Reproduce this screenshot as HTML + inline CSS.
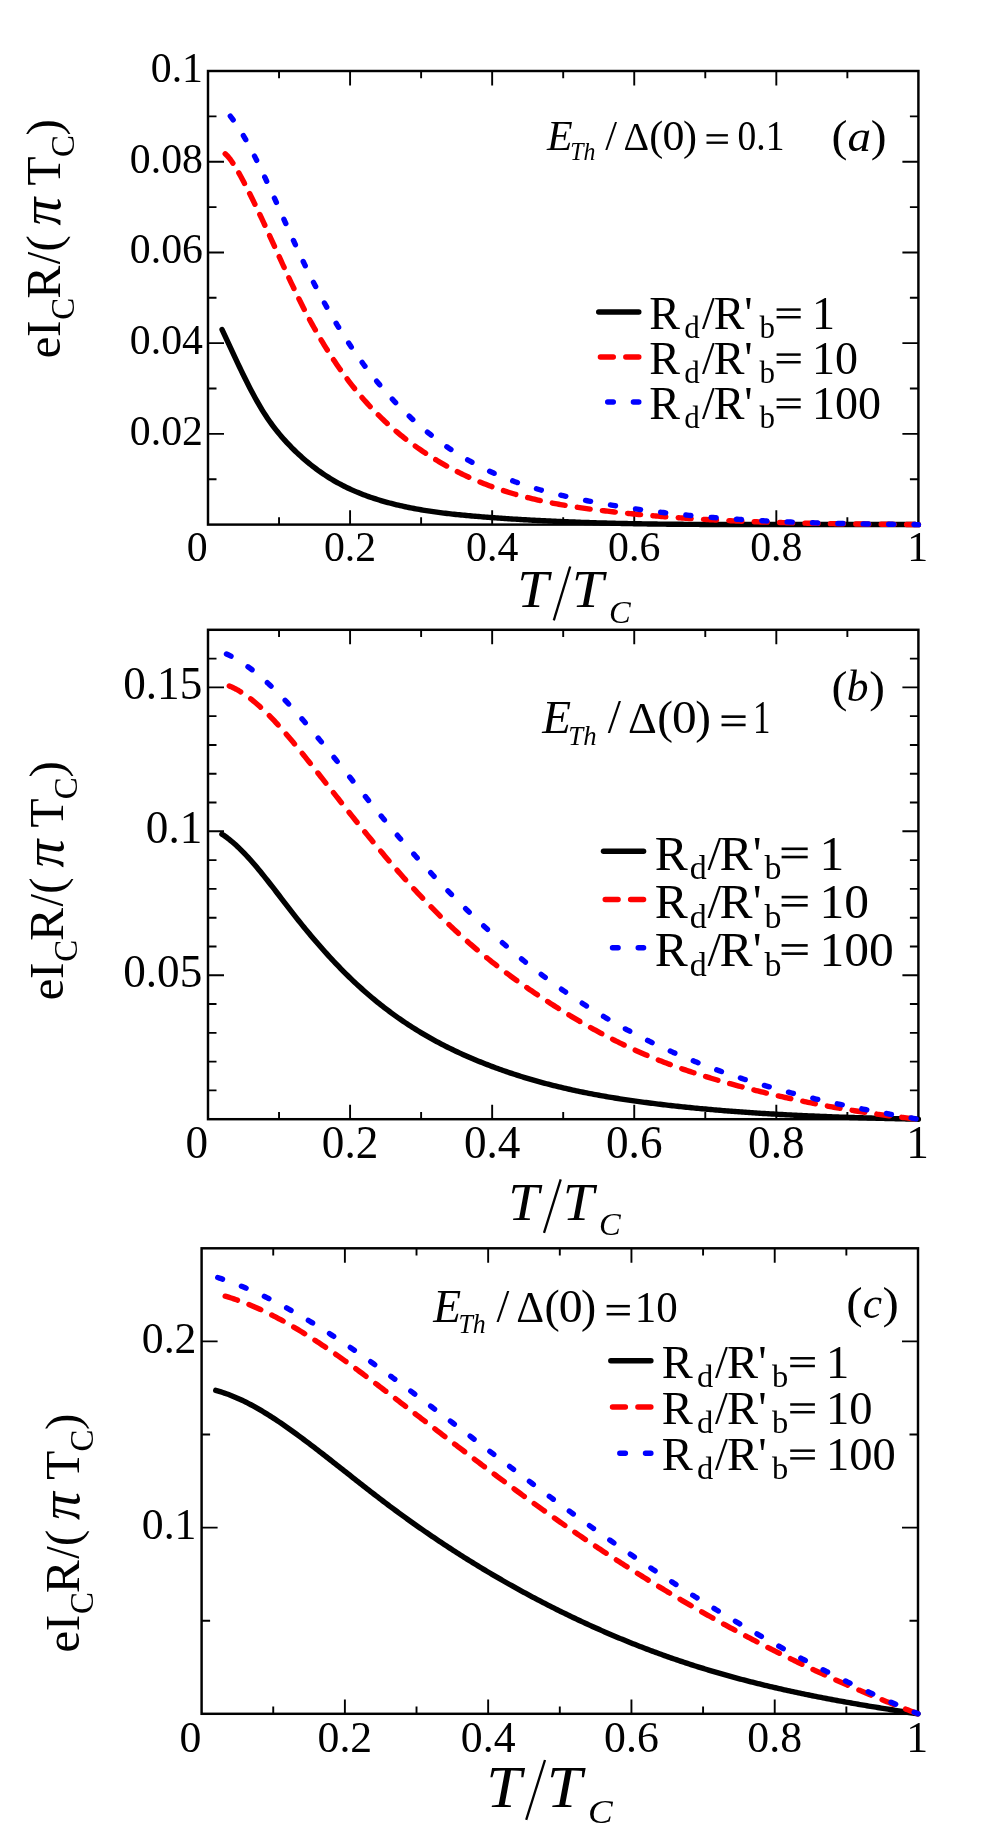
<!DOCTYPE html>
<html><head><meta charset="utf-8"><title>Figure</title>
<style>
html,body{margin:0;padding:0;background:#fff;}
body{width:981px;height:1839px;overflow:hidden;font-family:"Liberation Serif",serif;}
svg{display:block;}
text{font-family:"Liberation Serif",serif;}
</style></head><body>
<svg width="981" height="1839" viewBox="0 0 981 1839" style="will-change:transform;opacity:0.999">
<rect width="981" height="1839" fill="#fff"/>
<g id="panel-a">
<rect x="208" y="71" width="710.4" height="453.6" fill="none" stroke="#000" stroke-width="2.45"/>
<path d="M279.04 524.6v-7.3M279.04 71v7.3M350.08 524.6v-14.4M350.08 71v14.4M421.12 524.6v-7.3M421.12 71v7.3M492.16 524.6v-14.4M492.16 71v14.4M563.2 524.6v-7.3M563.2 71v7.3M634.24 524.6v-14.4M634.24 71v14.4M705.28 524.6v-7.3M705.28 71v7.3M776.32 524.6v-14.4M776.32 71v14.4M847.36 524.6v-7.3M847.36 71v7.3M208 479.24h8.5M918.4 479.24h-8.5M208 433.88h16M918.4 433.88h-16M208 388.52h8.5M918.4 388.52h-8.5M208 343.16h16M918.4 343.16h-16M208 297.8h8.5M918.4 297.8h-8.5M208 252.44h16M918.4 252.44h-16M208 207.08h8.5M918.4 207.08h-8.5M208 161.72h16M918.4 161.72h-16M208 116.36h8.5M918.4 116.36h-8.5" fill="none" stroke="#000" stroke-width="1.9"/>
<g font-family='"Liberation Serif", serif' font-size="43" fill="#000" style="font-kerning:none">
<text transform="translate(203 444.68) scale(0.972 1)" text-anchor="end">0.02</text>
<text transform="translate(203 353.96) scale(0.972 1)" text-anchor="end">0.04</text>
<text transform="translate(203 263.24) scale(0.972 1)" text-anchor="end">0.06</text>
<text transform="translate(203 172.52) scale(0.972 1)" text-anchor="end">0.08</text>
<text transform="translate(203 81.8) scale(0.972 1)" text-anchor="end">0.1</text>
<text transform="translate(350.08 561) scale(0.972 1)" text-anchor="middle">0.2</text>
<text transform="translate(492.16 561) scale(0.972 1)" text-anchor="middle">0.4</text>
<text transform="translate(634.24 561) scale(0.972 1)" text-anchor="middle">0.6</text>
<text transform="translate(776.32 561) scale(0.972 1)" text-anchor="middle">0.8</text>
<text transform="translate(197.3 561) scale(0.972 1)" text-anchor="middle">0</text>
<text transform="translate(917.6 561) scale(0.972 1)" text-anchor="middle">1</text>
</g>
<path d="M222.07 329.55L223.81 333.31L225.56 337.07L227.3 340.84L229.05 344.61L230.79 348.38L232.54 352.14L234.28 355.88L236.03 359.61L237.77 363.31L239.52 366.99L241.26 370.63L243.01 374.23L244.75 377.79L246.5 381.31L248.24 384.77L249.99 388.18L251.73 391.52L253.48 394.8L255.22 398.01L256.97 401.15L258.72 404.2L260.46 407.17L262.21 410.04L263.95 412.83L265.7 415.53L267.44 418.15L269.19 420.69L270.93 423.15L272.68 425.53L274.42 427.84L276.17 430.09L277.91 432.27L279.66 434.39L281.4 436.45L283.15 438.46L284.89 440.41L286.64 442.31L288.38 444.17L290.13 445.99L291.87 447.77L293.62 449.5L295.36 451.21L297.11 452.88L298.85 454.51L300.6 456.11L302.35 457.67L304.09 459.2L305.84 460.7L307.58 462.17L309.33 463.6L311.07 465L312.82 466.37L314.56 467.71L316.31 469.02L318.05 470.3L319.8 471.55L321.54 472.77L323.29 473.96L325.03 475.13L326.78 476.26L328.52 477.38L330.27 478.46L332.01 479.52L333.76 480.55L335.5 481.56L337.25 482.54L338.99 483.5L340.74 484.44L342.48 485.35L344.23 486.24L345.97 487.11L347.72 487.96L349.47 488.78L351.21 489.59L352.96 490.37L354.7 491.13L356.45 491.88L358.19 492.61L359.94 493.31L361.68 494L363.43 494.68L365.17 495.33L366.92 495.97L368.66 496.6L370.41 497.2L372.15 497.8L373.9 498.38L375.64 498.94L377.39 499.49L379.13 500.03L380.88 500.56L382.62 501.07L384.37 501.57L386.11 502.06L387.86 502.54L389.6 503.01L391.35 503.47L393.1 503.91L394.84 504.35L396.59 504.77L398.33 505.19L400.08 505.6L401.82 505.99L403.57 506.38L405.31 506.76L407.06 507.13L408.8 507.49L410.55 507.84L412.29 508.18L414.04 508.51L415.78 508.84L417.53 509.15L419.27 509.46L421.02 509.76L422.76 510.06L424.51 510.34L426.25 510.62L428 510.9L429.74 511.16L431.49 511.42L433.23 511.67L434.98 511.92L436.73 512.16L438.47 512.39L440.22 512.62L441.96 512.84L443.71 513.06L445.45 513.27L447.2 513.48L448.94 513.68L450.69 513.88L452.43 514.07L454.18 514.26L455.92 514.44L457.67 514.62L459.41 514.8L461.16 514.97L462.9 515.14L464.65 515.3L466.39 515.47L468.14 515.63L469.88 515.78L471.63 515.94L473.37 516.09L475.12 516.24L476.86 516.39L478.61 516.53L480.36 516.68L482.1 516.82L483.85 516.96L485.59 517.1L487.34 517.23L489.08 517.37L490.83 517.5L492.57 517.63L494.32 517.76L496.06 517.89L497.81 518.01L499.55 518.14L501.3 518.26L503.04 518.38L504.79 518.5L506.53 518.61L508.28 518.73L510.02 518.84L511.77 518.96L513.51 519.07L515.26 519.17L517 519.28L518.75 519.39L520.49 519.49L522.24 519.6L523.99 519.7L525.73 519.8L527.48 519.89L529.22 519.99L530.97 520.09L532.71 520.18L534.46 520.28L536.2 520.37L537.95 520.46L539.69 520.55L541.44 520.63L543.18 520.72L544.93 520.81L546.67 520.89L548.42 520.97L550.16 521.06L551.91 521.14L553.65 521.22L555.4 521.29L557.14 521.37L558.89 521.45L560.63 521.52L562.38 521.59L564.12 521.67L565.87 521.74L567.62 521.81L569.36 521.88L571.11 521.94L572.85 522.01L574.6 522.07L576.34 522.14L578.09 522.2L579.83 522.26L581.58 522.33L583.32 522.39L585.07 522.44L586.81 522.5L588.56 522.56L590.3 522.61L592.05 522.67L593.79 522.72L595.54 522.78L597.28 522.83L599.03 522.88L600.77 522.93L602.52 522.98L604.26 523.02L606.01 523.07L607.75 523.12L609.5 523.16L611.25 523.21L612.99 523.25L614.74 523.29L616.48 523.33L618.23 523.37L619.97 523.41L621.72 523.45L623.46 523.49L625.21 523.53L626.95 523.56L628.7 523.6L630.44 523.63L632.19 523.67L633.93 523.7L635.68 523.73L637.42 523.76L639.17 523.79L640.91 523.82L642.66 523.85L644.4 523.88L646.15 523.91L647.89 523.93L649.64 523.96L651.38 523.98L653.13 524.01L654.88 524.03L656.62 524.06L658.37 524.08L660.11 524.1L661.86 524.12L663.6 524.14L665.35 524.16L667.09 524.18L668.84 524.2L670.58 524.22L672.33 524.23L674.07 524.25L675.82 524.27L677.56 524.28L679.31 524.3L681.05 524.31L682.8 524.32L684.54 524.34L686.29 524.35L688.03 524.36L689.78 524.37L691.52 524.38L693.27 524.39L695.01 524.4L696.76 524.41L698.51 524.42L700.25 524.43L702 524.44L703.74 524.45L705.49 524.45L707.23 524.46L708.98 524.47L710.72 524.47L712.47 524.48L714.21 524.48L715.96 524.49L717.7 524.49L719.45 524.49L721.19 524.5L722.94 524.5L724.68 524.5L726.43 524.5L728.17 524.51L729.92 524.51L731.66 524.51L733.41 524.51L735.15 524.51L736.9 524.51L738.64 524.51L740.39 524.51L742.13 524.51L743.88 524.51L745.63 524.51L747.37 524.51L749.12 524.51L750.86 524.51L752.61 524.51L754.35 524.51L756.1 524.51L757.84 524.51L759.59 524.51L761.33 524.51L763.08 524.51L764.82 524.51L766.57 524.51L768.31 524.51L770.06 524.51L771.8 524.51L773.55 524.51L775.29 524.51L777.04 524.51L778.78 524.51L780.53 524.51L782.27 524.51L784.02 524.51L785.76 524.51L787.51 524.51L789.26 524.51L791 524.51L792.75 524.51L794.49 524.51L796.24 524.51L797.98 524.51L799.73 524.51L801.47 524.51L803.22 524.51L804.96 524.51L806.71 524.51L808.45 524.51L810.2 524.51L811.94 524.51L813.69 524.51L815.43 524.51L817.18 524.51L818.92 524.51L820.67 524.51L822.41 524.51L824.16 524.51L825.9 524.51L827.65 524.51L829.39 524.51L831.14 524.51L832.89 524.51L834.63 524.51L836.38 524.51L838.12 524.51L839.87 524.51L841.61 524.51L843.36 524.51L845.1 524.51L846.85 524.51L848.59 524.51L850.34 524.51L852.08 524.51L853.83 524.51L855.57 524.51L857.32 524.51L859.06 524.51L860.81 524.51L862.55 524.51L864.3 524.51L866.04 524.51L867.79 524.51L869.53 524.51L871.28 524.51L873.02 524.51L874.77 524.51L876.52 524.51L878.26 524.51L880.01 524.51L881.75 524.51L883.5 524.51L885.24 524.51L886.99 524.51L888.73 524.51L890.48 524.51L892.22 524.51L893.97 524.51L895.71 524.51L897.46 524.51L899.2 524.51L900.95 524.51L902.69 524.51L904.44 524.51L906.18 524.51L907.93 524.51L909.67 524.52L911.42 524.54L913.16 524.55L914.91 524.57L916.65 524.58L918.4 524.6" fill="none" stroke="#000" stroke-width="5.4" stroke-linecap="round" stroke-linejoin="round"/>
<path d="M225.19 153.78L226.93 155.43L228.67 157.36L230.4 159.54L232.14 161.96L232.92 163.13M238.83 172.92L239.09 173.38L240.83 176.55L242.57 179.8L244.3 183.11L244.48 183.44M249.65 193.57L251.25 196.78L252.99 200.3L254.73 203.86L254.91 204.25M259.81 214.48L259.94 214.75L261.68 218.44L263.41 222.16L264.85 225.25M269.58 235.55L270.36 237.26L272.1 241.08L273.84 244.9L274.5 246.36M279.19 256.68L280.79 260.2L282.52 264L284.12 267.48M288.87 277.77L289.47 279.08L291.21 282.79L292.95 286.47L293.93 288.53M298.88 298.75L299.9 300.81L301.64 304.28L303.37 307.71L304.24 309.39M309.54 319.46L310.32 320.92L312.06 324.1L313.8 327.24L315.31 329.93M321.04 339.81L322.48 342.22L324.22 345.09L325.96 347.91L327.3 350.04M333.52 359.68L334.65 361.37L336.38 363.94L338.12 366.47L339.86 368.96L340.33 369.63M347.12 378.95L348.54 380.83L350.28 383.09L352.02 385.32L353.76 387.51L354.57 388.52M362 397.44L362.44 397.95L364.18 399.94L365.92 401.89L367.66 403.82L369.39 405.71L370.16 406.53M378.29 414.94L379.82 416.45L381.55 418.14L383.29 419.8L385.03 421.43L386.77 423.04L387.2 423.44M396.07 431.24L397.19 432.18L398.93 433.62L400.67 435.04L402.4 436.44L404.14 437.82L405.72 439.05M415.27 446.16L416.3 446.9L418.04 448.13L419.78 449.34L421.51 450.53L423.25 451.71L424.99 452.87L425.59 453.26M435.72 459.68L437.15 460.55L438.89 461.58L440.62 462.6L442.36 463.61L444.1 464.6L445.84 465.58L446.64 466.02M457.32 471.68L458 472.02L459.74 472.89L461.47 473.74L463.21 474.58L464.95 475.41L466.69 476.22L468.42 477.02L468.79 477.19M479.96 482.02L480.58 482.28L482.32 482.98L484.06 483.67L485.8 484.35L487.53 485.02L489.27 485.67L491.01 486.32L491.89 486.64M503.47 490.64L504.91 491.1L506.64 491.65L508.38 492.2L510.12 492.73L511.86 493.25L513.59 493.76L515.33 494.27L515.78 494.4M527.66 497.59L529.23 497.99L530.97 498.41L532.71 498.83L534.44 499.24L536.18 499.65L537.92 500.04L539.65 500.43L540.23 500.56M552.31 503.05L553.55 503.29L555.29 503.61L557.03 503.93L558.77 504.25L560.5 504.56L562.24 504.86L563.98 505.16L565.06 505.35M577.27 507.27L577.88 507.36L579.61 507.62L581.35 507.87L583.09 508.11L584.83 508.36L586.56 508.59L588.3 508.83L590.04 509.06L590.12 509.07M602.4 510.61L603.94 510.79L605.67 510.99L607.41 511.19L609.15 511.39L610.89 511.59L612.62 511.79L614.36 511.98L615.3 512.08M627.61 513.38L628.26 513.45L630 513.63L631.73 513.8L633.47 513.97L635.21 514.14L636.95 514.3L638.68 514.47L640.42 514.63L640.53 514.64M652.87 515.74L654.32 515.87L656.06 516.01L657.8 516.16L659.53 516.3L661.27 516.44L663.01 516.58L664.74 516.72L665.82 516.8M678.18 517.72L678.64 517.75L680.38 517.87L682.12 517.99L683.86 518.11L685.59 518.23L687.33 518.34L689.07 518.46L690.81 518.57L691.14 518.59M703.51 519.35L704.7 519.41L706.44 519.51L708.18 519.61L709.92 519.71L711.65 519.8L713.39 519.89L715.13 519.99L716.49 520.06M728.87 520.66L729.03 520.67L730.76 520.75L732.5 520.83L734.24 520.91L735.98 520.98L737.71 521.06L739.45 521.13L741.19 521.21L741.86 521.23M754.24 521.71L755.09 521.74L756.83 521.81L758.56 521.87L760.3 521.93L762.04 521.99L763.77 522.04L765.51 522.1L767.23 522.16M779.63 522.53L781.15 522.57L782.89 522.62L784.62 522.66L786.36 522.71L788.1 522.75L789.84 522.8L791.57 522.84L792.62 522.87M805.02 523.15L805.47 523.16L807.21 523.2L808.95 523.23L810.68 523.27L812.42 523.3L814.16 523.33L815.9 523.37L817.63 523.4L818.02 523.41M830.41 523.62L831.53 523.63L833.27 523.66L835.01 523.69L836.74 523.71L838.48 523.74L840.22 523.76L841.96 523.79L843.41 523.81M855.81 523.97L855.85 523.97L857.59 523.99L859.33 524.01L861.07 524.03L862.8 524.05L864.54 524.07L866.28 524.09L868.02 524.11L868.81 524.12M881.21 524.25L881.92 524.25L883.65 524.27L885.39 524.29L887.13 524.31L888.86 524.32L890.6 524.34L892.34 524.36L894.08 524.37L894.21 524.37M906.61 524.49L907.98 524.5L909.71 524.52L911.45 524.53L913.19 524.55L914.93 524.57L916.66 524.58L918.4 524.6" fill="none" stroke="#ff0000" stroke-width="5.4" stroke-linecap="round" stroke-linejoin="round"/>
<path d="M230.31 116.09L232.03 118.34L233.16 119.89M243.37 135.64L244.1 136.89L245.72 139.71M254.53 156.14L256.17 159.39L256.63 160.32M264.73 177.04L264.8 177.19L266.52 180.87L266.7 181.27M274.43 198.13L275.14 199.71L276.35 202.38M283.93 219.3L285.49 222.79L285.83 223.55M293.45 240.46L294.11 241.93L295.38 244.7M303.22 261.52L304.46 264.12L305.24 265.73M313.51 282.38L314.81 284.92L315.65 286.54M324.46 302.98L325.16 304.24L326.74 307.07M336.15 323.24L337.23 325.03L338.59 327.26M348.67 343.09L349.3 344.04L351.02 346.62L351.3 347.02M362.14 362.43L363.1 363.74L364.82 366.06L364.97 366.25M376.66 381.16L376.89 381.45L378.62 383.53L379.71 384.83M392.33 399.11L392.41 399.21L394.14 401.05L395.62 402.61M409.23 416.14L409.66 416.55L411.38 418.16L412.77 419.44M427.39 432.09L428.63 433.1L430.35 434.48L431.19 435.14M446.86 446.74L447.6 447.25L449.32 448.42L450.93 449.5M467.64 459.85L468.29 460.23L470.02 461.21L471.74 462.17L471.96 462.28M489.63 471.26L490.71 471.76L492.44 472.55L494.16 473.33L494.17 473.33M512.65 480.87L513.13 481.05L514.86 481.68L516.58 482.3L517.38 482.59M536.48 488.76L537.28 488.99L539 489.49L540.72 489.98L541.34 490.15M560.86 495.15L561.42 495.28L563.14 495.68L564.87 496.07L565.8 496.28M585.57 500.41L587.29 500.75L589.01 501.08L590.56 501.37M610.47 504.95L611.43 505.11L613.16 505.4L614.88 505.68L615.48 505.78M635.49 508.87L635.57 508.88L637.3 509.13L639.02 509.37L640.53 509.58M660.61 512.21L661.44 512.31L663.17 512.52L664.89 512.73L665.67 512.82M685.82 515.02L687.31 515.17L689.04 515.35L690.76 515.52L690.89 515.53M711.09 517.35L711.45 517.38L713.18 517.52L714.9 517.66L716.17 517.76M736.4 519.24L737.32 519.3L739.05 519.41L740.77 519.53L741.49 519.57M761.74 520.74L763.19 520.82L764.92 520.9L766.64 520.99L766.84 521M787.11 521.91L787.33 521.92L789.06 521.98L790.78 522.05L792.21 522.11M812.49 522.79L813.2 522.81L814.93 522.86L816.65 522.91L817.59 522.94M837.88 523.44L839.07 523.47L840.8 523.5L842.52 523.54L842.98 523.55M863.28 523.92L864.94 523.94L866.66 523.97L868.38 524M888.67 524.27L889.08 524.28L890.81 524.3L892.53 524.32L893.77 524.33M914.07 524.55L914.95 524.56L916.68 524.58L918.4 524.6" fill="none" stroke="#0000ff" stroke-width="5.4" stroke-linecap="round" stroke-linejoin="round"/>
</g>
<g id="panel-b">
<rect x="208" y="629.8" width="710.4" height="489.4" fill="none" stroke="#000" stroke-width="2.45"/>
<path d="M279.04 1119.2v-7.3M279.04 629.8v7.3M350.08 1119.2v-14.4M350.08 629.8v14.4M421.12 1119.2v-7.3M421.12 629.8v7.3M492.16 1119.2v-14.4M492.16 629.8v14.4M563.2 1119.2v-7.3M563.2 629.8v7.3M634.24 1119.2v-14.4M634.24 629.8v14.4M705.28 1119.2v-7.3M705.28 629.8v7.3M776.32 1119.2v-14.4M776.32 629.8v14.4M847.36 1119.2v-7.3M847.36 629.8v7.3M208 1090.41h8.5M918.4 1090.41h-8.5M208 1061.62h8.5M918.4 1061.62h-8.5M208 1032.84h8.5M918.4 1032.84h-8.5M208 1004.05h8.5M918.4 1004.05h-8.5M208 975.26h16M918.4 975.26h-16M208 946.47h8.5M918.4 946.47h-8.5M208 917.68h8.5M918.4 917.68h-8.5M208 888.89h8.5M918.4 888.89h-8.5M208 860.11h8.5M918.4 860.11h-8.5M208 831.32h16M918.4 831.32h-16M208 802.53h8.5M918.4 802.53h-8.5M208 773.74h8.5M918.4 773.74h-8.5M208 744.95h8.5M918.4 744.95h-8.5M208 716.16h8.5M918.4 716.16h-8.5M208 687.38h16M918.4 687.38h-16M208 658.59h8.5M918.4 658.59h-8.5" fill="none" stroke="#000" stroke-width="1.9"/>
<g font-family='"Liberation Serif", serif' font-size="46.5" fill="#000" style="font-kerning:none">
<text transform="translate(202.3 987.26) scale(0.972 1)" text-anchor="end">0.05</text>
<text transform="translate(202.3 843.32) scale(0.972 1)" text-anchor="end">0.1</text>
<text transform="translate(202.3 699.38) scale(0.972 1)" text-anchor="end">0.15</text>
<text transform="translate(350.08 1158.3) scale(0.972 1)" text-anchor="middle">0.2</text>
<text transform="translate(492.16 1158.3) scale(0.972 1)" text-anchor="middle">0.4</text>
<text transform="translate(634.24 1158.3) scale(0.972 1)" text-anchor="middle">0.6</text>
<text transform="translate(776.32 1158.3) scale(0.972 1)" text-anchor="middle">0.8</text>
<text transform="translate(196.8 1158.3) scale(0.972 1)" text-anchor="middle">0</text>
<text transform="translate(917.6 1158.3) scale(0.972 1)" text-anchor="middle">1</text>
</g>
<path d="M221.92 834.19L223.67 835.33L225.41 836.54L227.16 837.81L228.91 839.15L230.65 840.54L232.4 841.99L234.14 843.5L235.89 845.07L237.63 846.69L239.38 848.35L241.12 850.07L242.87 851.83L244.62 853.64L246.36 855.49L248.11 857.38L249.85 859.31L251.6 861.27L253.34 863.27L255.09 865.3L256.83 867.36L258.58 869.46L260.33 871.57L262.07 873.71L263.82 875.88L265.56 878.06L267.31 880.26L269.05 882.48L270.8 884.71L272.54 886.96L274.29 889.21L276.04 891.48L277.78 893.75L279.53 896.02L281.27 898.3L283.02 900.57L284.76 902.85L286.51 905.12L288.25 907.38L290 909.64L291.75 911.89L293.49 914.12L295.24 916.34L296.98 918.55L298.73 920.74L300.47 922.92L302.22 925.08L303.96 927.23L305.71 929.36L307.46 931.47L309.2 933.57L310.95 935.65L312.69 937.72L314.44 939.77L316.18 941.81L317.93 943.82L319.67 945.83L321.42 947.81L323.17 949.78L324.91 951.73L326.66 953.67L328.4 955.58L330.15 957.49L331.89 959.37L333.64 961.23L335.38 963.08L337.13 964.91L338.88 966.73L340.62 968.52L342.37 970.3L344.11 972.06L345.86 973.8L347.6 975.52L349.35 977.23L351.09 978.91L352.84 980.58L354.59 982.22L356.33 983.85L358.08 985.47L359.82 987.06L361.57 988.63L363.31 990.19L365.06 991.73L366.8 993.25L368.55 994.76L370.3 996.25L372.04 997.72L373.79 999.17L375.53 1000.61L377.28 1002.03L379.02 1003.43L380.77 1004.82L382.51 1006.19L384.26 1007.55L386.01 1008.89L387.75 1010.21L389.5 1011.52L391.24 1012.81L392.99 1014.09L394.73 1015.35L396.48 1016.6L398.22 1017.83L399.97 1019.05L401.72 1020.26L403.46 1021.45L405.21 1022.62L406.95 1023.78L408.7 1024.93L410.44 1026.06L412.19 1027.19L413.93 1028.29L415.68 1029.39L417.43 1030.47L419.17 1031.53L420.92 1032.59L422.66 1033.63L424.41 1034.66L426.15 1035.68L427.9 1036.68L429.64 1037.67L431.39 1038.65L433.14 1039.62L434.88 1040.58L436.63 1041.53L438.37 1042.46L440.12 1043.38L441.86 1044.3L443.61 1045.2L445.35 1046.09L447.1 1046.97L448.85 1047.84L450.59 1048.7L452.34 1049.55L454.08 1050.39L455.83 1051.22L457.57 1052.04L459.32 1052.85L461.06 1053.65L462.81 1054.44L464.56 1055.22L466.3 1056L468.05 1056.76L469.79 1057.52L471.54 1058.26L473.28 1059L475.03 1059.74L476.77 1060.46L478.52 1061.18L480.27 1061.88L482.01 1062.58L483.76 1063.28L485.5 1063.96L487.25 1064.64L488.99 1065.31L490.74 1065.98L492.48 1066.63L494.23 1067.28L495.98 1067.92L497.72 1068.56L499.47 1069.19L501.21 1069.81L502.96 1070.43L504.7 1071.04L506.45 1071.64L508.19 1072.23L509.94 1072.82L511.69 1073.4L513.43 1073.98L515.18 1074.55L516.92 1075.11L518.67 1075.67L520.41 1076.22L522.16 1076.76L523.9 1077.3L525.65 1077.83L527.4 1078.35L529.14 1078.87L530.89 1079.39L532.63 1079.89L534.38 1080.4L536.12 1080.89L537.87 1081.38L539.61 1081.87L541.36 1082.34L543.11 1082.82L544.85 1083.28L546.6 1083.74L548.34 1084.2L550.09 1084.65L551.83 1085.1L553.58 1085.54L555.32 1085.97L557.07 1086.4L558.82 1086.83L560.56 1087.24L562.31 1087.66L564.05 1088.07L565.8 1088.47L567.54 1088.87L569.29 1089.26L571.03 1089.65L572.78 1090.04L574.53 1090.42L576.27 1090.79L578.02 1091.16L579.76 1091.53L581.51 1091.89L583.25 1092.25L585 1092.6L586.74 1092.95L588.49 1093.29L590.24 1093.63L591.98 1093.97L593.73 1094.3L595.47 1094.63L597.22 1094.95L598.96 1095.27L600.71 1095.58L602.45 1095.89L604.2 1096.2L605.95 1096.51L607.69 1096.81L609.44 1097.1L611.18 1097.39L612.93 1097.68L614.67 1097.97L616.42 1098.25L618.16 1098.53L619.91 1098.8L621.66 1099.07L623.4 1099.34L625.15 1099.61L626.89 1099.87L628.64 1100.13L630.38 1100.38L632.13 1100.63L633.87 1100.88L635.62 1101.13L637.37 1101.37L639.11 1101.61L640.86 1101.85L642.6 1102.08L644.35 1102.32L646.09 1102.55L647.84 1102.77L649.58 1103L651.33 1103.22L653.08 1103.44L654.82 1103.66L656.57 1103.87L658.31 1104.08L660.06 1104.29L661.8 1104.5L663.55 1104.71L665.29 1104.91L667.04 1105.11L668.79 1105.31L670.53 1105.51L672.28 1105.7L674.02 1105.9L675.77 1106.09L677.51 1106.28L679.26 1106.47L681 1106.65L682.75 1106.84L684.5 1107.02L686.24 1107.2L687.99 1107.38L689.73 1107.55L691.48 1107.73L693.22 1107.9L694.97 1108.07L696.71 1108.24L698.46 1108.41L700.21 1108.57L701.95 1108.74L703.7 1108.9L705.44 1109.06L707.19 1109.22L708.93 1109.37L710.68 1109.53L712.42 1109.68L714.17 1109.83L715.92 1109.98L717.66 1110.13L719.41 1110.28L721.15 1110.42L722.9 1110.57L724.64 1110.71L726.39 1110.85L728.13 1110.99L729.88 1111.12L731.63 1111.26L733.37 1111.39L735.12 1111.52L736.86 1111.66L738.61 1111.78L740.35 1111.91L742.1 1112.04L743.84 1112.16L745.59 1112.29L747.34 1112.41L749.08 1112.53L750.83 1112.65L752.57 1112.76L754.32 1112.88L756.06 1112.99L757.81 1113.11L759.55 1113.22L761.3 1113.33L763.05 1113.44L764.79 1113.55L766.54 1113.65L768.28 1113.76L770.03 1113.86L771.77 1113.96L773.52 1114.06L775.26 1114.16L777.01 1114.26L778.76 1114.36L780.5 1114.46L782.25 1114.55L783.99 1114.64L785.74 1114.74L787.48 1114.83L789.23 1114.92L790.97 1115.01L792.72 1115.09L794.47 1115.18L796.21 1115.27L797.96 1115.35L799.7 1115.43L801.45 1115.52L803.19 1115.6L804.94 1115.68L806.68 1115.76L808.43 1115.84L810.18 1115.91L811.92 1115.99L813.67 1116.06L815.41 1116.14L817.16 1116.21L818.9 1116.28L820.65 1116.35L822.39 1116.42L824.14 1116.49L825.89 1116.56L827.63 1116.63L829.38 1116.7L831.12 1116.76L832.87 1116.83L834.61 1116.89L836.36 1116.95L838.1 1117.02L839.85 1117.08L841.6 1117.14L843.34 1117.2L845.09 1117.26L846.83 1117.32L848.58 1117.37L850.32 1117.43L852.07 1117.49L853.81 1117.54L855.56 1117.6L857.31 1117.65L859.05 1117.7L860.8 1117.76L862.54 1117.81L864.29 1117.86L866.03 1117.91L867.78 1117.96L869.52 1118.01L871.27 1118.06L873.02 1118.11L874.76 1118.16L876.51 1118.2L878.25 1118.25L880 1118.3L881.74 1118.34L883.49 1118.39L885.23 1118.43L886.98 1118.47L888.73 1118.52L890.47 1118.56L892.22 1118.6L893.96 1118.65L895.71 1118.69L897.45 1118.73L899.2 1118.77L900.94 1118.81L902.69 1118.85L904.44 1118.89L906.18 1118.93L907.93 1118.97L909.67 1119.01L911.42 1119.05L913.16 1119.09L914.91 1119.12L916.65 1119.16L918.4 1119.2" fill="none" stroke="#000" stroke-width="5.4" stroke-linecap="round" stroke-linejoin="round"/>
<path d="M229.31 685.93L231.04 686.67L232.77 687.47L234.49 688.33L236.22 689.24L237.95 690.2L239.67 691.21L240.69 691.84M250.71 698.86L251.76 699.68L253.49 701.07L255.22 702.51L256.94 703.98L258.67 705.5L260.4 707.05L260.5 707.14M269.31 715.63L270.76 717.11L272.49 718.9L274.21 720.72L275.94 722.56L277.67 724.44L278.13 724.95M286.25 734.11L286.3 734.17L288.03 736.19L289.76 738.22L291.49 740.27L293.21 742.33L294.52 743.91M302.27 753.39L303.57 755.01L305.3 757.16L307.03 759.32L308.76 761.48L310.29 763.41M317.9 772.99L319.12 774.53L320.84 776.72L322.57 778.9L324.3 781.08L325.86 783.06M333.45 792.66L334.66 794.19L336.39 796.37L338.12 798.55L339.84 800.73L341.42 802.71M349.04 812.29L350.2 813.75L351.93 815.91L353.66 818.06L355.39 820.21L357.07 822.3M364.77 831.81L365.75 833.02L367.48 835.13L369.2 837.24L370.93 839.34L372.66 841.43L372.9 841.73M380.74 851.14L381.29 851.8L383.02 853.85L384.75 855.89L386.47 857.92L388.2 859.94L389.04 860.92M397.06 870.16L398.56 871.86L400.29 873.82L402.02 875.76L403.74 877.7L405.47 879.62L405.59 879.75M413.84 888.79L414.11 889.08L415.83 890.94L417.56 892.8L419.29 894.64L421.01 896.47L422.61 898.15M431.12 906.95L431.38 907.22L433.1 908.97L434.83 910.72L436.56 912.45L438.28 914.17L440.01 915.88L440.17 916.04M448.96 924.56L450.37 925.9L452.1 927.52L453.83 929.14L455.55 930.75L457.28 932.34L458.34 933.31M467.46 941.48L467.64 941.65L469.37 943.16L471.1 944.65L472.82 946.14L474.55 947.61L476.28 949.08L477.19 949.84M486.64 957.62L486.64 957.63L488.37 959.02L490.09 960.4L491.82 961.76L493.55 963.12L495.28 964.47L496.7 965.58M506.45 972.98L507.37 973.66L509.09 974.94L510.82 976.21L512.55 977.47L514.27 978.72L516 979.96L516.81 980.55M526.82 987.59L528.09 988.47L529.82 989.66L531.54 990.84L533.27 992.01L535 993.18L536.72 994.34L537.43 994.81M547.64 1001.55L548.81 1002.31L550.54 1003.42L552.27 1004.53L554 1005.63L555.72 1006.73L557.45 1007.82L558.46 1008.45M568.87 1014.88L569.54 1015.28L571.27 1016.32L572.99 1017.36L574.72 1018.39L576.45 1019.41L578.17 1020.42L579.9 1021.43L579.9 1021.44M590.53 1027.5L591.99 1028.32L593.72 1029.27L595.44 1030.22L597.17 1031.17L598.9 1032.1L600.63 1033.03L601.79 1033.66M612.65 1039.31L612.71 1039.35L614.44 1040.22L616.17 1041.09L617.9 1041.95L619.62 1042.8L621.35 1043.65L623.08 1044.48L624.15 1045M635.23 1050.18L636.89 1050.93L638.62 1051.7L640.35 1052.47L642.07 1053.23L643.8 1053.98L645.53 1054.72L646.98 1055.34M658.3 1059.99L659.34 1060.4L661.07 1061.08L662.8 1061.75L664.53 1062.41L666.25 1063.07L667.98 1063.73L669.71 1064.37L670.28 1064.59M681.8 1068.73L683.52 1069.33L685.25 1069.92L686.98 1070.51L688.7 1071.09L690.43 1071.67L692.16 1072.24L693.89 1072.81L693.96 1072.83M705.62 1076.53L705.97 1076.64L707.7 1077.17L709.43 1077.7L711.16 1078.22L712.88 1078.73L714.61 1079.25L716.34 1079.76L717.91 1080.22M729.68 1083.56L730.15 1083.69L731.88 1084.17L733.61 1084.64L735.33 1085.11L737.06 1085.58L738.79 1086.04L740.52 1086.51L742.07 1086.92M753.92 1089.99L754.33 1090.09L756.06 1090.53L757.79 1090.96L759.51 1091.39L761.24 1091.82L762.97 1092.24L764.69 1092.67L766.37 1093.07M778.28 1095.88L778.51 1095.93L780.24 1096.33L781.96 1096.72L783.69 1097.11L785.42 1097.5L787.15 1097.88L788.87 1098.26L790.6 1098.64L790.8 1098.69M802.77 1101.23L804.42 1101.57L806.14 1101.93L807.87 1102.28L809.6 1102.63L811.32 1102.97L813.05 1103.31L814.78 1103.65L815.35 1103.77M827.38 1106.05L828.59 1106.28L830.32 1106.59L832.05 1106.91L833.78 1107.22L835.5 1107.52L837.23 1107.83L838.96 1108.13L840.01 1108.31M852.08 1110.34L852.77 1110.45L854.5 1110.73L856.23 1111L857.95 1111.28L859.68 1111.55L861.41 1111.81L863.13 1112.08L864.75 1112.33M876.86 1114.09L876.95 1114.11L878.68 1114.35L880.41 1114.59L882.13 1114.82L883.86 1115.06L885.59 1115.29L887.31 1115.52L889.04 1115.74L889.58 1115.81M901.72 1117.33L902.86 1117.46L904.58 1117.66L906.31 1117.86L908.04 1118.06L909.76 1118.26L911.49 1118.45L913.22 1118.64L914.47 1118.78" fill="none" stroke="#ff0000" stroke-width="5.4" stroke-linecap="round" stroke-linejoin="round"/>
<path d="M226.47 653.98L228.2 654.79L229.94 655.64L231 656.18M247.99 666.75L249.01 667.49L250.75 668.78L252.03 669.76M267.34 682.68L268.09 683.37L269.82 684.98L271.02 686.11M285.16 700.3L285.43 700.58L287.17 702.43L288.61 703.97M301.98 718.89L302.77 719.8L304.51 721.8L305.27 722.7M318.18 738.02L318.38 738.27L320.12 740.37L321.38 741.91M334.02 757.45L335.72 759.56L337.18 761.37M349.71 777.01L351.33 779.04L352.85 780.94M365.39 796.57L366.94 798.49L368.55 800.49M381.21 816.01L382.54 817.62L384.28 819.71L384.43 819.89M397.34 835.21L398.15 836.16L399.89 838.18L400.62 839.02M413.82 854.1L415.49 855.98L417.17 857.85M430.67 872.66L431.1 873.13L432.84 874.99L434.1 876.34M447.92 890.85L448.44 891.38L450.18 893.16L451.44 894.45M465.61 908.62L465.78 908.79L467.52 910.49L469.21 912.13M483.74 925.92L484.86 926.96L486.59 928.55L487.44 929.33M502.37 942.7L503.94 944.06L505.67 945.57L506.17 946M521.52 958.88L523.01 960.1L524.75 961.51L525.43 962.05M541.21 974.4L542.09 975.06L543.82 976.37L545.23 977.43M561.45 989.19L562.9 990.2L564.63 991.41L565.58 992.07M582.23 1003.21L583.71 1004.17L585.44 1005.28L586.46 1005.93M603.52 1016.44L604.52 1017.03L606.25 1018.05L607.86 1018.99M625.31 1028.83L625.33 1028.83L627.06 1029.77L628.8 1030.7L629.75 1031.21M647.57 1040.37L647.87 1040.52L649.61 1041.37L651.34 1042.21L652.09 1042.58M670.25 1051.04L670.42 1051.12L672.15 1051.89L673.88 1052.66L674.85 1053.08M693.31 1060.86L694.69 1061.42L696.43 1062.12L697.99 1062.73M716.72 1069.85L717.24 1070.04L718.97 1070.66L720.71 1071.29L721.45 1071.55M740.41 1078.02L741.52 1078.38L743.25 1078.95L744.98 1079.5L745.2 1079.57M764.36 1085.44L765.79 1085.86L767.53 1086.37L769.2 1086.85M788.51 1092.16L790.07 1092.57L791.81 1093.02L793.38 1093.43M812.83 1098.24L814.35 1098.6L816.08 1099.01L817.73 1099.4M837.28 1103.78L838.63 1104.07L840.36 1104.44L842.1 1104.8L842.21 1104.83M861.84 1108.84L862.91 1109.05L864.64 1109.39L866.38 1109.73L866.78 1109.81M886.46 1113.53L887.19 1113.66L888.92 1113.98L890.65 1114.3L891.42 1114.44M911.14 1117.94L911.46 1118L913.2 1118.3L914.93 1118.6L916.1 1118.8" fill="none" stroke="#0000ff" stroke-width="5.4" stroke-linecap="round" stroke-linejoin="round"/>
</g>
<g id="panel-c">
<rect x="201.6" y="1248.3" width="716.4" height="465.5" fill="none" stroke="#000" stroke-width="2.45"/>
<path d="M273.24 1713.8v-7.3M273.24 1248.3v7.3M344.88 1713.8v-14.4M344.88 1248.3v14.4M416.52 1713.8v-7.3M416.52 1248.3v7.3M488.16 1713.8v-14.4M488.16 1248.3v14.4M559.8 1713.8v-7.3M559.8 1248.3v7.3M631.44 1713.8v-14.4M631.44 1248.3v14.4M703.08 1713.8v-7.3M703.08 1248.3v7.3M774.72 1713.8v-14.4M774.72 1248.3v14.4M846.36 1713.8v-7.3M846.36 1248.3v7.3M201.6 1620.7h8.5M918 1620.7h-8.5M201.6 1527.6h16M918 1527.6h-16M201.6 1434.5h8.5M918 1434.5h-8.5M201.6 1341.4h16M918 1341.4h-16" fill="none" stroke="#000" stroke-width="1.9"/>
<g font-family='"Liberation Serif", serif' font-size="44" fill="#000" style="font-kerning:none">
<text transform="translate(196.5 1539.2) scale(0.995 1)" text-anchor="end">0.1</text>
<text transform="translate(196.5 1353) scale(0.995 1)" text-anchor="end">0.2</text>
<text transform="translate(344.88 1751.6) scale(0.995 1)" text-anchor="middle">0.2</text>
<text transform="translate(488.16 1751.6) scale(0.995 1)" text-anchor="middle">0.4</text>
<text transform="translate(631.44 1751.6) scale(0.995 1)" text-anchor="middle">0.6</text>
<text transform="translate(774.72 1751.6) scale(0.995 1)" text-anchor="middle">0.8</text>
<text transform="translate(190.4 1751.6) scale(0.995 1)" text-anchor="middle">0</text>
<text transform="translate(917.2 1751.6) scale(0.995 1)" text-anchor="middle">1</text>
</g>
<path d="M215.71 1390.37L217.47 1390.85L219.23 1391.37L220.99 1391.91L222.75 1392.48L224.51 1393.07L226.27 1393.69L228.03 1394.33L229.79 1395L231.55 1395.69L233.31 1396.41L235.07 1397.15L236.83 1397.91L238.59 1398.69L240.35 1399.5L242.11 1400.32L243.87 1401.17L245.64 1402.04L247.4 1402.92L249.16 1403.83L250.92 1404.76L252.68 1405.7L254.44 1406.67L256.2 1407.65L257.96 1408.65L259.72 1409.67L261.48 1410.7L263.24 1411.75L265 1412.82L266.76 1413.9L268.52 1415L270.28 1416.11L272.04 1417.24L273.8 1418.38L275.56 1419.53L277.32 1420.7L279.08 1421.88L280.84 1423.07L282.6 1424.27L284.36 1425.49L286.12 1426.71L287.88 1427.95L289.64 1429.2L291.4 1430.45L293.16 1431.72L294.92 1432.99L296.68 1434.27L298.44 1435.56L300.2 1436.86L301.96 1438.17L303.72 1439.48L305.48 1440.8L307.24 1442.12L309 1443.45L310.76 1444.79L312.52 1446.13L314.28 1447.48L316.04 1448.82L317.8 1450.18L319.56 1451.54L321.32 1452.9L323.08 1454.26L324.84 1455.63L326.6 1457L328.36 1458.38L330.12 1459.75L331.88 1461.13L333.64 1462.51L335.4 1463.89L337.16 1465.28L338.92 1466.66L340.68 1468.05L342.44 1469.44L344.2 1470.82L345.96 1472.21L347.72 1473.6L349.48 1474.99L351.24 1476.38L353 1477.76L354.76 1479.15L356.52 1480.53L358.28 1481.92L360.04 1483.3L361.8 1484.68L363.56 1486.06L365.32 1487.43L367.08 1488.8L368.84 1490.17L370.6 1491.54L372.36 1492.9L374.12 1494.26L375.88 1495.62L377.64 1496.97L379.4 1498.32L381.16 1499.66L382.92 1501L384.68 1502.33L386.44 1503.66L388.2 1504.98L389.96 1506.3L391.72 1507.62L393.48 1508.92L395.25 1510.23L397.01 1511.52L398.77 1512.81L400.53 1514.1L402.29 1515.38L404.05 1516.66L405.81 1517.93L407.57 1519.2L409.33 1520.46L411.09 1521.72L412.85 1522.97L414.61 1524.22L416.37 1525.46L418.13 1526.7L419.89 1527.93L421.65 1529.16L423.41 1530.38L425.17 1531.6L426.93 1532.81L428.69 1534.02L430.45 1535.22L432.21 1536.42L433.97 1537.61L435.73 1538.8L437.49 1539.98L439.25 1541.16L441.01 1542.34L442.77 1543.5L444.53 1544.67L446.29 1545.83L448.05 1546.98L449.81 1548.13L451.57 1549.28L453.33 1550.42L455.09 1551.55L456.85 1552.68L458.61 1553.81L460.37 1554.93L462.13 1556.05L463.89 1557.16L465.65 1558.27L467.41 1559.37L469.17 1560.47L470.93 1561.56L472.69 1562.65L474.45 1563.74L476.21 1564.82L477.97 1565.89L479.73 1566.96L481.49 1568.03L483.25 1569.09L485.01 1570.15L486.77 1571.2L488.53 1572.25L490.29 1573.29L492.05 1574.33L493.81 1575.37L495.57 1576.4L497.33 1577.42L499.09 1578.44L500.85 1579.46L502.61 1580.47L504.37 1581.48L506.13 1582.48L507.89 1583.48L509.65 1584.48L511.41 1585.47L513.17 1586.46L514.93 1587.44L516.69 1588.41L518.45 1589.39L520.21 1590.36L521.97 1591.32L523.73 1592.28L525.49 1593.24L527.25 1594.19L529.01 1595.14L530.77 1596.08L532.53 1597.02L534.29 1597.95L536.05 1598.88L537.81 1599.81L539.57 1600.73L541.33 1601.65L543.09 1602.56L544.86 1603.47L546.62 1604.38L548.38 1605.28L550.14 1606.17L551.9 1607.07L553.66 1607.95L555.42 1608.84L557.18 1609.72L558.94 1610.59L560.7 1611.46L562.46 1612.33L564.22 1613.2L565.98 1614.05L567.74 1614.91L569.5 1615.76L571.26 1616.61L573.02 1617.45L574.78 1618.29L576.54 1619.12L578.3 1619.95L580.06 1620.78L581.82 1621.6L583.58 1622.42L585.34 1623.23L587.1 1624.04L588.86 1624.84L590.62 1625.64L592.38 1626.44L594.14 1627.23L595.9 1628.02L597.66 1628.81L599.42 1629.59L601.18 1630.36L602.94 1631.14L604.7 1631.9L606.46 1632.67L608.22 1633.43L609.98 1634.18L611.74 1634.94L613.5 1635.68L615.26 1636.43L617.02 1637.17L618.78 1637.9L620.54 1638.63L622.3 1639.36L624.06 1640.08L625.82 1640.8L627.58 1641.52L629.34 1642.23L631.1 1642.93L632.86 1643.64L634.62 1644.34L636.38 1645.03L638.14 1645.72L639.9 1646.41L641.66 1647.09L643.42 1647.77L645.18 1648.44L646.94 1649.11L648.7 1649.78L650.46 1650.44L652.22 1651.1L653.98 1651.75L655.74 1652.4L657.5 1653.05L659.26 1653.69L661.02 1654.33L662.78 1654.96L664.54 1655.59L666.3 1656.22L668.06 1656.84L669.82 1657.46L671.58 1658.08L673.34 1658.69L675.1 1659.29L676.86 1659.89L678.62 1660.49L680.38 1661.09L682.14 1661.68L683.9 1662.26L685.66 1662.85L687.42 1663.42L689.18 1664L690.94 1664.57L692.7 1665.13L694.47 1665.7L696.23 1666.26L697.99 1666.81L699.75 1667.36L701.51 1667.91L703.27 1668.45L705.03 1668.99L706.79 1669.53L708.55 1670.06L710.31 1670.59L712.07 1671.11L713.83 1671.63L715.59 1672.15L717.35 1672.66L719.11 1673.17L720.87 1673.68L722.63 1674.18L724.39 1674.68L726.15 1675.18L727.91 1675.67L729.67 1676.16L731.43 1676.65L733.19 1677.13L734.95 1677.61L736.71 1678.08L738.47 1678.56L740.23 1679.03L741.99 1679.49L743.75 1679.95L745.51 1680.41L747.27 1680.87L749.03 1681.32L750.79 1681.77L752.55 1682.22L754.31 1682.66L756.07 1683.1L757.83 1683.54L759.59 1683.98L761.35 1684.41L763.11 1684.84L764.87 1685.26L766.63 1685.68L768.39 1686.1L770.15 1686.52L771.91 1686.94L773.67 1687.35L775.43 1687.75L777.19 1688.16L778.95 1688.56L780.71 1688.96L782.47 1689.36L784.23 1689.76L785.99 1690.15L787.75 1690.54L789.51 1690.92L791.27 1691.31L793.03 1691.69L794.79 1692.07L796.55 1692.45L798.31 1692.82L800.07 1693.19L801.83 1693.56L803.59 1693.93L805.35 1694.29L807.11 1694.66L808.87 1695.02L810.63 1695.37L812.39 1695.73L814.15 1696.08L815.91 1696.43L817.67 1696.78L819.43 1697.13L821.19 1697.47L822.95 1697.82L824.71 1698.16L826.47 1698.49L828.23 1698.83L829.99 1699.16L831.75 1699.5L833.51 1699.83L835.27 1700.15L837.03 1700.48L838.79 1700.8L840.55 1701.13L842.31 1701.45L844.08 1701.76L845.84 1702.08L847.6 1702.4L849.36 1702.71L851.12 1703.02L852.88 1703.33L854.64 1703.64L856.4 1703.94L858.16 1704.25L859.92 1704.55L861.68 1704.85L863.44 1705.15L865.2 1705.45L866.96 1705.75L868.72 1706.04L870.48 1706.34L872.24 1706.63L874 1706.92L875.76 1707.21L877.52 1707.5L879.28 1707.78L881.04 1708.07L882.8 1708.35L884.56 1708.64L886.32 1708.92L888.08 1709.2L889.84 1709.48L891.6 1709.76L893.36 1710.03L895.12 1710.31L896.88 1710.58L898.64 1710.86L900.4 1711.13L902.16 1711.4L903.92 1711.67L905.68 1711.94L907.44 1712.21L909.2 1712.48L910.96 1712.74L912.72 1713.01L914.48 1713.27L916.24 1713.54L918 1713.8" fill="none" stroke="#000" stroke-width="5.4" stroke-linecap="round" stroke-linejoin="round"/>
<path d="M225.17 1296.15L226.91 1296.66L228.64 1297.19L230.38 1297.73L232.12 1298.29L233.85 1298.87L235.59 1299.46L237.32 1300.06L237.47 1300.11M248.96 1304.5L249.48 1304.72L251.22 1305.44L252.95 1306.17L254.69 1306.92L256.43 1307.69L258.16 1308.46L259.9 1309.25L260.76 1309.65M271.79 1315L272.05 1315.14L273.79 1316.03L275.53 1316.93L277.26 1317.84L279 1318.77L280.73 1319.7L282.47 1320.65L283.12 1321.01M293.73 1327.06L294.63 1327.58L296.36 1328.61L298.1 1329.65L299.84 1330.7L301.57 1331.76L303.31 1332.83L304.67 1333.68M314.95 1340.23L315.46 1340.56L317.2 1341.7L318.94 1342.84L320.67 1343.99L322.41 1345.15L324.15 1346.32L325.58 1347.29M335.59 1354.19L336.3 1354.68L338.04 1355.9L339.77 1357.13L341.51 1358.36L343.25 1359.6L344.98 1360.84L345.98 1361.56M355.8 1368.7L357.14 1369.68L358.87 1370.96L360.61 1372.25L362.35 1373.53L364.08 1374.83L365.82 1376.12L366.03 1376.28M375.72 1383.57L376.24 1383.96L377.97 1385.27L379.71 1386.59L381.45 1387.91L383.18 1389.23L384.92 1390.55L385.85 1391.26M395.48 1398.63L397.07 1399.85L398.81 1401.19L400.55 1402.52L402.28 1403.85L404.02 1405.18L405.56 1406.37M415.18 1413.76L416.18 1414.53L417.91 1415.86L419.65 1417.2L421.38 1418.54L423.12 1419.87L424.86 1421.21L425.25 1421.51M434.86 1428.9L435.28 1429.22L437.01 1430.56L438.75 1431.89L440.49 1433.23L442.22 1434.56L443.96 1435.89L444.94 1436.65M454.56 1444.03L456.11 1445.21L457.85 1446.54L459.59 1447.87L461.32 1449.2L463.06 1450.52L464.66 1451.75M474.31 1459.09L475.21 1459.78L476.95 1461.1L478.69 1462.41L480.42 1463.73L482.16 1465.04L483.9 1466.36L484.45 1466.77M494.14 1474.07L494.31 1474.2L496.05 1475.5L497.79 1476.8L499.52 1478.1L501.26 1479.4L503 1480.69L504.33 1481.69M514.08 1488.92L515.15 1489.71L516.89 1490.99L518.62 1492.26L520.36 1493.54L522.1 1494.81L523.83 1496.08L524.34 1496.45M534.16 1503.59L534.25 1503.66L535.99 1504.91L537.72 1506.16L539.46 1507.41L541.2 1508.66L542.93 1509.9L544.5 1511.02M554.41 1518.05L555.09 1518.52L556.83 1519.74L558.56 1520.96L560.3 1522.18L562.03 1523.39L563.77 1524.6L564.86 1525.35M574.86 1532.26L575.93 1532.99L577.66 1534.18L579.4 1535.36L581.14 1536.54L582.87 1537.72L584.61 1538.9L585.41 1539.44M595.51 1546.22L596.76 1547.05L598.5 1548.2L600.24 1549.35L601.97 1550.5L603.71 1551.65L605.44 1552.79L606.16 1553.26M616.36 1559.91L617.6 1560.71L619.34 1561.83L621.07 1562.95L622.81 1564.06L624.55 1565.17L626.28 1566.28L627.1 1566.81M637.4 1573.32L638.44 1573.97L640.17 1575.06L641.91 1576.14L643.65 1577.22L645.38 1578.3L647.12 1579.38L648.25 1580.08M658.65 1586.45L659.27 1586.83L661.01 1587.88L662.75 1588.93L664.48 1589.98L666.22 1591.03L667.96 1592.07L669.6 1593.06M680.1 1599.28L680.11 1599.29L681.85 1600.31L683.58 1601.33L685.32 1602.35L687.06 1603.36L688.79 1604.37L690.53 1605.37L691.16 1605.74M701.75 1611.81L702.68 1612.35L704.42 1613.33L706.16 1614.31L707.89 1615.29L709.63 1616.27L711.37 1617.24L712.91 1618.11M723.6 1624.03L725.26 1624.94L726.99 1625.89L728.73 1626.83L730.47 1627.78L732.2 1628.72L733.94 1629.66L734.87 1630.15M745.66 1635.92L746.09 1636.15L747.83 1637.07L749.57 1637.98L751.3 1638.89L753.04 1639.8L754.78 1640.7L756.51 1641.61L757.02 1641.87M767.91 1647.47L768.67 1647.85L770.4 1648.73L772.14 1649.61L773.88 1650.49L775.61 1651.36L777.35 1652.23L779.09 1653.1L779.38 1653.24M790.36 1658.67L791.24 1659.1L792.98 1659.94L794.71 1660.79L796.45 1661.63L798.19 1662.47L799.92 1663.3L801.66 1664.13L801.93 1664.26M813.01 1669.51L813.81 1669.89L815.55 1670.7L817.29 1671.5L819.02 1672.31L820.76 1673.11L822.5 1673.91L824.23 1674.71L824.68 1674.92M835.86 1679.98L836.39 1680.22L838.12 1680.99L839.86 1681.77L841.6 1682.54L843.33 1683.31L845.07 1684.07L846.81 1684.83L847.63 1685.19M858.9 1690.07L858.96 1690.1L860.7 1690.84L862.43 1691.58L864.17 1692.31L865.91 1693.05L867.64 1693.78L869.38 1694.5L870.76 1695.08M882.13 1699.77L883.27 1700.23L885.01 1700.93L886.74 1701.64L888.48 1702.33L890.22 1703.03L891.95 1703.72L893.69 1704.41L894.09 1704.57M905.54 1709.05L905.85 1709.17L907.58 1709.84L909.32 1710.51L911.05 1711.17L912.79 1711.83L914.53 1712.49L916.26 1713.15L917.59 1713.65" fill="none" stroke="#ff0000" stroke-width="5.4" stroke-linecap="round" stroke-linejoin="round"/>
<path d="M217.72 1277.53L219.47 1278.09L221.23 1278.67L222.53 1279.11M241.4 1286.17L242.29 1286.53L244.05 1287.26L245.8 1287.99L246.07 1288.11M264.36 1296.41L265.11 1296.77L266.86 1297.63L268.62 1298.49L268.89 1298.63M286.64 1307.91L287.92 1308.61L289.68 1309.58L291.04 1310.34M308.33 1320.38L308.98 1320.77L310.74 1321.84L312.49 1322.91L312.62 1322.98M329.5 1333.61L330.04 1333.97L331.8 1335.11L333.55 1336.25L333.7 1336.35M350.25 1347.43L351.11 1348.02L352.86 1349.22L354.37 1350.27M370.66 1361.7L372.17 1362.77L373.92 1364.03L374.72 1364.6M390.81 1376.29L391.47 1376.77L393.23 1378.06L394.83 1379.24M410.78 1391.1L410.78 1391.1L412.53 1392.42L414.29 1393.73L414.77 1394.09M430.62 1406.05L431.84 1406.97L433.6 1408.3L434.6 1409.06M450.4 1421.09L451.15 1421.66L452.9 1423L454.36 1424.12M470.13 1436.18L470.45 1436.43L472.21 1437.77L473.96 1439.12L474.09 1439.21M489.85 1451.28L491.51 1452.56L493.27 1453.9L493.81 1454.31M509.59 1466.36L510.82 1467.29L512.57 1468.63L513.56 1469.38M529.39 1481.37L530.13 1481.93L531.88 1483.25L533.37 1484.37M549.27 1496.28L549.43 1496.4L551.19 1497.7L552.94 1499L553.28 1499.26M569.28 1511.04L570.49 1511.93L572.25 1513.2L573.32 1513.98M589.44 1525.62L589.8 1525.87L591.55 1527.13L593.31 1528.38L593.51 1528.52M609.77 1539.99L610.86 1540.75L612.61 1541.98L613.87 1542.85M630.26 1554.15L631.92 1555.28L633.68 1556.48L634.39 1556.97M650.92 1568.08L651.23 1568.29L652.98 1569.45L654.74 1570.62L655.09 1570.85M671.76 1581.78L672.29 1582.12L674.04 1583.25L675.8 1584.39L675.97 1584.5M692.79 1595.22L693.35 1595.57L695.1 1596.68L696.86 1597.78L697.03 1597.89M714 1608.4L714.41 1608.65L716.16 1609.72L717.92 1610.79L718.29 1611.01M735.41 1621.29L735.47 1621.33L737.23 1622.37L738.98 1623.4L739.73 1623.85M757.02 1633.89L758.29 1634.62L760.04 1635.62L761.38 1636.38M778.83 1646.18L779.35 1646.47L781.1 1647.43L782.86 1648.4L783.23 1648.6M800.84 1658.13L802.16 1658.83L803.92 1659.76L805.29 1660.49M823.06 1669.73L823.23 1669.81L824.98 1670.71L826.74 1671.6L827.55 1672.01M845.5 1680.96L846.04 1681.22L847.8 1682.08L849.55 1682.93L850.04 1683.16M868.16 1691.79L868.86 1692.12L870.61 1692.93L872.37 1693.75L872.73 1693.92M891.03 1702.21L891.67 1702.49L893.43 1703.27L895.18 1704.04L895.65 1704.25M914.13 1712.18L914.49 1712.33L916.24 1713.07L918 1713.8" fill="none" stroke="#0000ff" stroke-width="5.4" stroke-linecap="round" stroke-linejoin="round"/>
</g>
<g transform="translate(59.7 356.8) rotate(-90)" fill="#000">
<text x="-1.63" y="0" font-size="49.5" style="font-kerning:none">e</text>
<text x="19.91" y="0" font-size="49.5" style="font-kerning:none">I</text>
<text x="37.15" y="13.9" font-size="33" style="font-kerning:none">C</text>
<text x="57.97" y="0" font-size="49.5" style="font-kerning:none">R</text>
<text transform="translate(92.5 0) scale(0.9089 1)" font-size="49.5" style="font-kerning:none">/</text>
<text x="105.02" y="0" font-size="49.5" style="font-kerning:none">(</text>
<text transform="translate(131.3 0) scale(0.9740 1)" font-size="57.42" font-style="italic" style="font-kerning:none">π</text>
<text transform="translate(171.34 0) scale(0.9607 1)" font-size="49.5" style="font-kerning:none">T</text>
<text x="199.75" y="13.9" font-size="33" style="font-kerning:none">C</text>
<text x="221.3" y="0" font-size="49.5" style="font-kerning:none">)</text>
</g>
<g transform="translate(62.9 998.9) rotate(-90)" fill="#000">
<text x="-1.63" y="0" font-size="49.5" style="font-kerning:none">e</text>
<text x="19.91" y="0" font-size="49.5" style="font-kerning:none">I</text>
<text x="37.15" y="13.9" font-size="33" style="font-kerning:none">C</text>
<text x="57.97" y="0" font-size="49.5" style="font-kerning:none">R</text>
<text transform="translate(92.5 0) scale(0.9089 1)" font-size="49.5" style="font-kerning:none">/</text>
<text x="105.02" y="0" font-size="49.5" style="font-kerning:none">(</text>
<text transform="translate(131.3 0) scale(0.9740 1)" font-size="57.42" font-style="italic" style="font-kerning:none">π</text>
<text transform="translate(171.34 0) scale(0.9607 1)" font-size="49.5" style="font-kerning:none">T</text>
<text x="199.75" y="13.9" font-size="33" style="font-kerning:none">C</text>
<text x="221.3" y="0" font-size="49.5" style="font-kerning:none">)</text>
</g>
<g transform="translate(78.9 1651.2) rotate(-90)" fill="#000">
<text x="-1.63" y="0" font-size="49.5" style="font-kerning:none">e</text>
<text x="19.91" y="0" font-size="49.5" style="font-kerning:none">I</text>
<text x="37.15" y="13.9" font-size="33" style="font-kerning:none">C</text>
<text x="57.97" y="0" font-size="49.5" style="font-kerning:none">R</text>
<text transform="translate(92.5 0) scale(0.9089 1)" font-size="49.5" style="font-kerning:none">/</text>
<text x="105.02" y="0" font-size="49.5" style="font-kerning:none">(</text>
<text transform="translate(131.3 0) scale(0.9740 1)" font-size="57.42" font-style="italic" style="font-kerning:none">π</text>
<text transform="translate(171.34 0) scale(0.9607 1)" font-size="49.5" style="font-kerning:none">T</text>
<text x="199.75" y="13.9" font-size="33" style="font-kerning:none">C</text>
<text x="221.3" y="0" font-size="49.5" style="font-kerning:none">)</text>
</g>
<g fill="#000">
<text transform="translate(517.31 607.4) scale(1.0638 1)" font-size="53" font-style="italic" style="font-kerning:none">T</text>
<text transform="translate(571.76 607.4) scale(1.0776 1)" font-size="53" font-style="italic" style="font-kerning:none">T</text>
<text transform="translate(608.89 622.8) scale(1.0500 1)" font-size="31" font-style="italic" style="font-kerning:none">C</text>
<line x1="570.2" y1="566.5" x2="553.8" y2="620.3" stroke="#000" stroke-width="2.3"/>
</g>
<g fill="#000">
<text transform="translate(508.37 1220.2) scale(1.0467 1)" font-size="53" font-style="italic" style="font-kerning:none">T</text>
<text transform="translate(562.83 1220.2) scale(1.0570 1)" font-size="53" font-style="italic" style="font-kerning:none">T</text>
<text transform="translate(598.99 1235.2) scale(1.0500 1)" font-size="31" font-style="italic" style="font-kerning:none">C</text>
<line x1="560.7" y1="1179.4" x2="544" y2="1232.8" stroke="#000" stroke-width="2.3"/>
</g>
<g fill="#000">
<text transform="translate(486.17 1806.5) scale(1.0519 1)" font-size="60" font-style="italic" style="font-kerning:none">T</text>
<text transform="translate(546.66 1806.5) scale(1.0549 1)" font-size="60" font-style="italic" style="font-kerning:none">T</text>
<text transform="translate(587.94 1823) scale(1.0900 1)" font-size="34" font-style="italic" style="font-kerning:none">C</text>
<line x1="545" y1="1760" x2="526.2" y2="1819.8" stroke="#000" stroke-width="2.3"/>
</g>
<g fill="#000">
<text x="547.09" y="149.5" font-size="42" font-style="italic" style="font-kerning:none">E</text>
<text transform="translate(570.14 160.2) scale(0.9690 1)" font-size="24.57" font-style="italic" style="font-kerning:none">Th</text>
<text x="605.3" y="149.5" font-size="42.42" style="font-kerning:none">/</text>
<text transform="translate(623.38 149.5) scale(0.9879 1)" font-size="40.32" style="font-kerning:none">Δ</text>
<text x="649.25" y="149.5" font-size="42" style="font-kerning:none">(</text>
<text transform="translate(662.43 149.5) scale(1.0449 1)" font-size="42" style="font-kerning:none">0</text>
<text x="683.05" y="149.5" font-size="42" style="font-kerning:none">)</text>
<rect x="706.5" y="134.15" width="21.4" height="2.31" fill="#000"/>
<rect x="706.5" y="141.54" width="21.4" height="2.31" fill="#000"/>
<text transform="translate(737.57 149.5) scale(0.9066 1)" font-size="41.37" style="font-kerning:none">0.1</text>
</g>
<g fill="#000">
<text x="542.35" y="732.6" font-size="47.21" font-style="italic" style="font-kerning:none">E</text>
<text transform="translate(568.26 744.63) scale(0.9690 1)" font-size="27.62" font-style="italic" style="font-kerning:none">Th</text>
<text x="607.78" y="732.6" font-size="47.68" style="font-kerning:none">/</text>
<text transform="translate(628.1 732.6) scale(0.9879 1)" font-size="45.32" style="font-kerning:none">Δ</text>
<text x="657.18" y="732.6" font-size="47.21" style="font-kerning:none">(</text>
<text transform="translate(671.99 732.6) scale(1.0449 1)" font-size="47.21" style="font-kerning:none">0</text>
<text x="695.17" y="732.6" font-size="47.21" style="font-kerning:none">)</text>
<rect x="721.53" y="715.35" width="24.05" height="2.6" fill="#000"/>
<rect x="721.53" y="723.65" width="24.05" height="2.6" fill="#000"/>
<text transform="translate(752.93 732.6) scale(0.7514 1)" font-size="46.5" style="font-kerning:none">1</text>
</g>
<g fill="#000">
<text x="433.34" y="1321.6" font-size="45.65" font-style="italic" style="font-kerning:none">E</text>
<text transform="translate(458.39 1333.23) scale(0.9690 1)" font-size="26.71" font-style="italic" style="font-kerning:none">Th</text>
<text x="496.61" y="1321.6" font-size="46.11" style="font-kerning:none">/</text>
<text transform="translate(516.26 1321.6) scale(0.9879 1)" font-size="43.83" style="font-kerning:none">Δ</text>
<text x="544.39" y="1321.6" font-size="45.65" style="font-kerning:none">(</text>
<text transform="translate(558.71 1321.6) scale(1.0449 1)" font-size="45.65" style="font-kerning:none">0</text>
<text x="581.12" y="1321.6" font-size="45.65" style="font-kerning:none">)</text>
<rect x="606.61" y="1304.91" width="23.26" height="2.51" fill="#000"/>
<rect x="606.61" y="1312.95" width="23.26" height="2.51" fill="#000"/>
<text transform="translate(634.82 1321.6) scale(0.9566 1)" font-size="44.97" style="font-kerning:none">10</text>
</g>
<g fill="#000">
<text transform="translate(831.4 151.3) scale(1.0884 1)" font-size="44" style="font-kerning:none">(</text>
<text transform="translate(847.4 150.5) scale(1.0717 1)" font-size="44" font-style="italic" style="font-kerning:none">a</text>
<text transform="translate(870.77 151.3) scale(1.0796 1)" font-size="44" style="font-kerning:none">)</text>
</g>
<g fill="#000">
<text transform="translate(831.4 701.8) scale(1.0884 1)" font-size="44" style="font-kerning:none">(</text>
<text transform="translate(846.79 701) scale(0.9876 1)" font-size="44" font-style="italic" style="font-kerning:none">b</text>
<text transform="translate(869.28 701.8) scale(1.0707 1)" font-size="44" style="font-kerning:none">)</text>
</g>
<g fill="#000">
<text transform="translate(846.34 1318.3) scale(1.1150 1)" font-size="44" style="font-kerning:none">(</text>
<text transform="translate(862.66 1317.5) scale(0.9885 1)" font-size="44" font-style="italic" style="font-kerning:none">c</text>
<text transform="translate(882.42 1318.3) scale(1.1150 1)" font-size="44" style="font-kerning:none">)</text>
</g>
<g fill="#000">
<text x="649.17" y="328.9" font-size="46" style="font-kerning:none">R</text>
<text x="684.28" y="337.7" font-size="31" style="font-kerning:none">d</text>
<text x="701.9" y="328.9" font-size="46" style="font-kerning:none">/</text>
<text x="713.67" y="328.9" font-size="46" style="font-kerning:none">R</text>
<text x="744.37" y="328.9" font-size="46" style="font-kerning:none">'</text>
<text x="759.4" y="337.7" font-size="31" style="font-kerning:none">b</text>
<rect x="776.6" y="308.36" width="24.1" height="2.44" fill="#000"/>
<rect x="776.6" y="316" width="24.1" height="2.44" fill="#000"/>
<text x="812.06" y="328.9" font-size="46" style="font-kerning:none">1</text>
<text x="649.17" y="373.9" font-size="46" style="font-kerning:none">R</text>
<text x="684.28" y="382.7" font-size="31" style="font-kerning:none">d</text>
<text x="701.9" y="373.9" font-size="46" style="font-kerning:none">/</text>
<text x="713.67" y="373.9" font-size="46" style="font-kerning:none">R</text>
<text x="744.37" y="373.9" font-size="46" style="font-kerning:none">'</text>
<text x="759.4" y="382.7" font-size="31" style="font-kerning:none">b</text>
<rect x="776.6" y="353.36" width="24.1" height="2.44" fill="#000"/>
<rect x="776.6" y="361" width="24.1" height="2.44" fill="#000"/>
<text x="812.06" y="373.9" font-size="46" style="font-kerning:none">10</text>
<text x="649.17" y="418.9" font-size="46" style="font-kerning:none">R</text>
<text x="684.28" y="427.7" font-size="31" style="font-kerning:none">d</text>
<text x="701.9" y="418.9" font-size="46" style="font-kerning:none">/</text>
<text x="713.67" y="418.9" font-size="46" style="font-kerning:none">R</text>
<text x="744.37" y="418.9" font-size="46" style="font-kerning:none">'</text>
<text x="759.4" y="427.7" font-size="31" style="font-kerning:none">b</text>
<rect x="776.6" y="398.36" width="24.1" height="2.44" fill="#000"/>
<rect x="776.6" y="406" width="24.1" height="2.44" fill="#000"/>
<text x="812.06" y="418.9" font-size="46" style="font-kerning:none">100</text>
</g>
<g fill="none" stroke-width="5.4" stroke-linecap="round">
<path d="M598.7 312H638.8" stroke="#000"/>
<path d="M600.4 357H613.3M625.8 357H638.8" stroke="#ff0000"/>
<path d="M607.7 402H613.3M633.4 402H638.8" stroke="#0000ff"/>
</g>
<g fill="#000">
<text x="654.67" y="869.6" font-size="49.5" style="font-kerning:none">R</text>
<text x="689.77" y="879.2" font-size="34" style="font-kerning:none">d</text>
<text x="707.5" y="869.6" font-size="49.5" style="font-kerning:none">/</text>
<text x="719.57" y="869.6" font-size="49.5" style="font-kerning:none">R</text>
<text x="752.72" y="869.6" font-size="49.5" style="font-kerning:none">'</text>
<text x="764.4" y="879.2" font-size="34" style="font-kerning:none">b</text>
<rect x="781.6" y="847.5" width="26.1" height="2.62" fill="#000"/>
<rect x="781.6" y="855.72" width="26.1" height="2.62" fill="#000"/>
<text x="819.55" y="869.6" font-size="49.5" style="font-kerning:none">1</text>
<text x="654.67" y="917.9" font-size="49.5" style="font-kerning:none">R</text>
<text x="689.77" y="927.5" font-size="34" style="font-kerning:none">d</text>
<text x="707.5" y="917.9" font-size="49.5" style="font-kerning:none">/</text>
<text x="719.57" y="917.9" font-size="49.5" style="font-kerning:none">R</text>
<text x="752.72" y="917.9" font-size="49.5" style="font-kerning:none">'</text>
<text x="764.4" y="927.5" font-size="34" style="font-kerning:none">b</text>
<rect x="781.6" y="895.8" width="26.1" height="2.62" fill="#000"/>
<rect x="781.6" y="904.02" width="26.1" height="2.62" fill="#000"/>
<text x="819.55" y="917.9" font-size="49.5" style="font-kerning:none">10</text>
<text x="654.67" y="966.2" font-size="49.5" style="font-kerning:none">R</text>
<text x="689.77" y="975.8" font-size="34" style="font-kerning:none">d</text>
<text x="707.5" y="966.2" font-size="49.5" style="font-kerning:none">/</text>
<text x="719.57" y="966.2" font-size="49.5" style="font-kerning:none">R</text>
<text x="752.72" y="966.2" font-size="49.5" style="font-kerning:none">'</text>
<text x="764.4" y="975.8" font-size="34" style="font-kerning:none">b</text>
<rect x="781.6" y="944.1" width="26.1" height="2.62" fill="#000"/>
<rect x="781.6" y="952.32" width="26.1" height="2.62" fill="#000"/>
<text x="819.55" y="966.2" font-size="49.5" style="font-kerning:none">100</text>
</g>
<g fill="none" stroke-width="5.4" stroke-linecap="round">
<path d="M603.5 851.2H643.6" stroke="#000"/>
<path d="M605.2 899.5H618.1M630.6 899.5H643.6" stroke="#ff0000"/>
<path d="M612.5 947.8H618.1M638.2 947.8H643.6" stroke="#0000ff"/>
</g>
<g fill="#000">
<text x="661.66" y="1377.8" font-size="46.5" style="font-kerning:none">R</text>
<text x="696.93" y="1386.9" font-size="32.5" style="font-kerning:none">d</text>
<text x="714.9" y="1377.8" font-size="46.5" style="font-kerning:none">/</text>
<text x="727.06" y="1377.8" font-size="46.5" style="font-kerning:none">R</text>
<text x="758.35" y="1377.8" font-size="46.5" style="font-kerning:none">'</text>
<text x="772.1" y="1386.9" font-size="32.5" style="font-kerning:none">b</text>
<rect x="790.2" y="1357.04" width="24.7" height="2.46" fill="#000"/>
<rect x="790.2" y="1364.76" width="24.7" height="2.46" fill="#000"/>
<text x="826.11" y="1377.8" font-size="46.5" style="font-kerning:none">1</text>
<text x="661.66" y="1424" font-size="46.5" style="font-kerning:none">R</text>
<text x="696.93" y="1433.1" font-size="32.5" style="font-kerning:none">d</text>
<text x="714.9" y="1424" font-size="46.5" style="font-kerning:none">/</text>
<text x="727.06" y="1424" font-size="46.5" style="font-kerning:none">R</text>
<text x="758.35" y="1424" font-size="46.5" style="font-kerning:none">'</text>
<text x="772.1" y="1433.1" font-size="32.5" style="font-kerning:none">b</text>
<rect x="790.2" y="1403.24" width="24.7" height="2.46" fill="#000"/>
<rect x="790.2" y="1410.96" width="24.7" height="2.46" fill="#000"/>
<text x="826.11" y="1424" font-size="46.5" style="font-kerning:none">10</text>
<text x="661.66" y="1470.2" font-size="46.5" style="font-kerning:none">R</text>
<text x="696.93" y="1479.3" font-size="32.5" style="font-kerning:none">d</text>
<text x="714.9" y="1470.2" font-size="46.5" style="font-kerning:none">/</text>
<text x="727.06" y="1470.2" font-size="46.5" style="font-kerning:none">R</text>
<text x="758.35" y="1470.2" font-size="46.5" style="font-kerning:none">'</text>
<text x="772.1" y="1479.3" font-size="32.5" style="font-kerning:none">b</text>
<rect x="790.2" y="1449.44" width="24.7" height="2.46" fill="#000"/>
<rect x="790.2" y="1457.16" width="24.7" height="2.46" fill="#000"/>
<text x="826.11" y="1470.2" font-size="46.5" style="font-kerning:none">100</text>
</g>
<g fill="none" stroke-width="5.4" stroke-linecap="round">
<path d="M610.8 1360.8H650.9" stroke="#000"/>
<path d="M612.5 1407H625.4M637.9 1407H650.9" stroke="#ff0000"/>
<path d="M619.8 1453.2H625.4M645.5 1453.2H650.9" stroke="#0000ff"/>
</g>
</svg>
</body></html>
